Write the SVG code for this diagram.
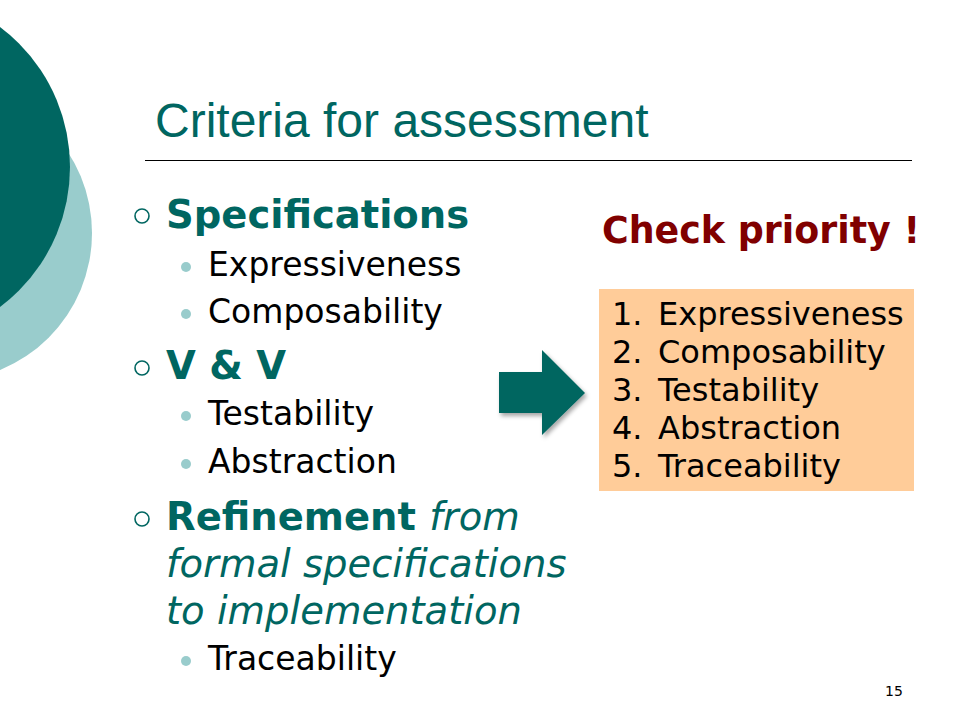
<svg xmlns="http://www.w3.org/2000/svg" width="960" height="720" viewBox="0 0 960 720">
<style>
.v{font-family:"DejaVu Sans",Verdana,sans-serif}
.h1{font-family:"Liberation Sans",Arial,sans-serif;font-size:48px;fill:#006661}
.b1{font-size:38.5px;font-weight:bold;fill:#006661}
.it{font-size:38.5px;font-style:italic;font-weight:normal;fill:#006661}
.sub{font-size:33px;fill:#000}
.li{font-size:32px;fill:#000}
.cp{font-size:36.4px;font-weight:bold;fill:#800000}
.ob{fill:none;stroke:#006661;stroke-width:1.6}
.db{fill:#99CCCC}
</style>
<defs>
<filter id="sh" x="-20%" y="-20%" width="150%" height="150%">
<feDropShadow dx="2" dy="3" stdDeviation="2" flood-color="#000" flood-opacity="0.35"/>
</filter>
</defs>
<rect width="960" height="720" fill="#fff"/>
<g id="decor">
<circle cx="-56" cy="233" r="148" fill="#99CCCC"/>
<circle cx="-105" cy="167" r="175" fill="#006661"/>
</g>
<g id="title">
<text class="h1" x="155" y="137">Criteria for assessment</text>
<line x1="145" y1="160.5" x2="912" y2="160.5" stroke="#000" stroke-width="1"/>
</g>
<g id="bullets" class="v">
<circle class="ob" cx="142" cy="216" r="7"/>
<text class="b1" x="166" y="228">Specifications</text>
<circle class="db" cx="186" cy="267" r="5"/>
<text class="sub" x="208" y="276">Expressiveness</text>
<circle class="db" cx="186" cy="314" r="5"/>
<text class="sub" x="208" y="323">Composability</text>
<circle class="ob" cx="142" cy="368" r="7"/>
<text class="b1" x="166" y="379">V &amp; V</text>
<circle class="db" cx="186" cy="416" r="5"/>
<text class="sub" x="208" y="425">Testability</text>
<circle class="db" cx="186" cy="464" r="5"/>
<text class="sub" x="208" y="473">Abstraction</text>
<circle class="ob" cx="142" cy="519" r="7"/>
<text class="b1" x="166" y="530">Refinement <tspan class="it">from</tspan></text>
<text class="it" x="166" y="577">formal specifications</text>
<text class="it" x="166" y="624">to implementation</text>
<circle class="db" cx="186" cy="661" r="5"/>
<text class="sub" x="208" y="670">Traceability</text>
</g>
<g id="connectors">
<path d="M499,372 H542 V350 L585,393 L542,435 V413 H499 Z" fill="#006661" filter="url(#sh)"/>
</g>
<g id="priority" class="v">
<text class="cp" x="602" y="243">Check priority !</text>
<rect x="599" y="289" width="315" height="202" fill="#FFCC99"/>
<text class="li" x="612" y="325">1.</text><text class="li" x="658" y="325">Expressiveness</text>
<text class="li" x="612" y="363">2.</text><text class="li" x="658" y="363">Composability</text>
<text class="li" x="612" y="401">3.</text><text class="li" x="658" y="401">Testability</text>
<text class="li" x="612" y="439">4.</text><text class="li" x="658" y="439">Abstraction</text>
<text class="li" x="612" y="477">5.</text><text class="li" x="658" y="477">Traceability</text>
</g>
<text class="v" x="885" y="696" font-size="14" fill="#000">15</text>
</svg>
